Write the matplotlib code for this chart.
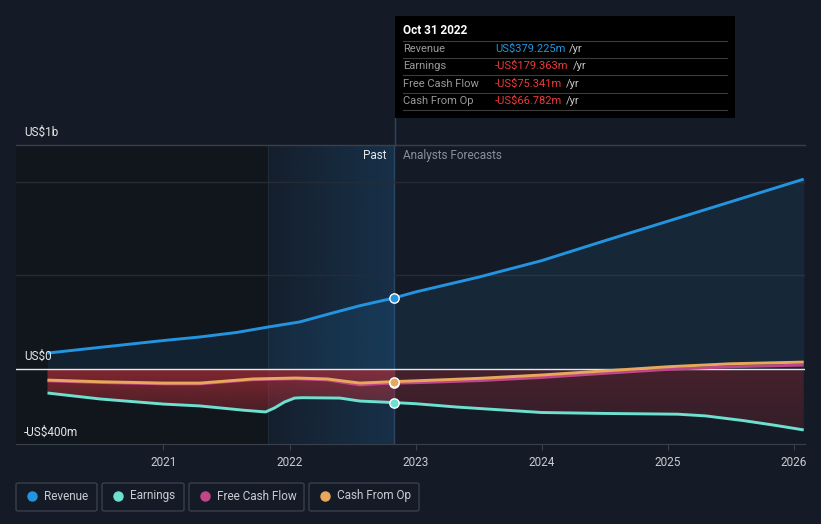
"""Revenue / earnings / cash flow history and analyst forecasts, dark theme."""

import matplotlib

matplotlib.use("Agg")
import matplotlib.pyplot as plt
import numpy as np
from matplotlib.patches import FancyBboxPatch, Rectangle

plt.rcParams["font.family"] = ["Roboto", "DejaVu Sans"]

BG = "#151b26"
REV_C = "#2394df"
EARN_C = "#6de0d0"
FCF_C = "#c0468a"
CFO_C = "#e8a85b"

# decimal years, values in US$ millions
rev_t = [2020.08, 2020.49, 2021.0, 2021.29, 2021.58, 2021.83, 2022.08, 2022.32, 2022.56, 2022.83,
         2023.0, 2023.5, 2024.0, 2024.5, 2025.0, 2025.5, 2026.08]
rev_v = [85, 115, 152, 171, 195, 224, 251, 295, 338, 379,
         411, 490, 578, 684, 788, 892, 1013]

earn_t = [2020.08, 2020.5, 2021.0, 2021.29, 2021.64, 2021.81, 2021.88, 2021.96, 2022.04, 2022.1,
          2022.4, 2022.56, 2022.83, 2023.0, 2023.33, 2024.0, 2024.5, 2025.08, 2025.3, 2025.6,
          2025.85, 2026.08]
earn_v = [-128, -160, -187, -197, -220, -229, -208, -176, -155, -153,
          -155, -171, -179, -185, -203, -232, -237, -241, -250, -275,
          -300, -325]

cfo_t = [2020.08, 2020.5, 2021.0, 2021.29, 2021.71, 2022.05, 2022.3, 2022.45, 2022.56, 2022.7, 2022.83,
         2023.0, 2023.5, 2024.0, 2024.5, 2025.0, 2025.5, 2026.08]
cfo_v = [-59, -68, -75, -75, -53, -48, -53, -66, -75, -71, -67,
         -63, -50, -32, -10, 12, 28, 37]

fcf_t = cfo_t
fcf_v = [-63, -72, -79, -79, -57, -52, -58, -74, -85, -79, -75,
         -73, -62, -45, -23, -2, 12, 21]

NOW = 2022.83
PAST_START = 2021.83
YEARS = [2021, 2022, 2023, 2024, 2025, 2026]
X_MIN, X_MAX = 2019.83, 2026.09
Y_MIN, Y_MAX = -400, 1195

fig = plt.figure(figsize=(8.21, 5.24), dpi=100, facecolor=BG)
W, H = 821, 524
ax = fig.add_axes([16 / W, (H - 444) / H, (805 - 16) / W, (444 - 145) / H])
ax.set_facecolor(BG)
ax.set_xlim(X_MIN, X_MAX)
ax.set_ylim(Y_MIN, Y_MAX)
for s in ["top", "right", "left"]:
    ax.spines[s].set_visible(False)
ax.spines["bottom"].set_color("#3a404a")
ax.set_yticks([])
ax.set_xticks(YEARS)
ax.set_xticklabels([str(y) for y in YEARS])
ax.tick_params(axis="x", colors="#3a404a", labelcolor="#c8ccd2", labelsize=8.5, length=4, pad=5)

# background zones
ax.axvspan(X_MIN, PAST_START, color="#0f1217", alpha=0.55, lw=0, zorder=0)
grad = np.linspace(0.08, 0.42, 256)[None, :]
blue = np.zeros((1, 256, 4))
blue[..., 0], blue[..., 1], blue[..., 2] = 0x1a / 255, 0x4f / 255, 0x7a / 255
blue[..., 3] = grad
ax.imshow(blue, extent=[PAST_START, NOW, Y_MIN, Y_MAX], aspect="auto", zorder=0.5, interpolation="bilinear")
ax.axvline(PAST_START, color="#1f2c3a", lw=0.8, zorder=0.6)
ax.axvline(NOW, color="#2a4660", lw=1, zorder=0.6)

# grid lines
ax.axhline(Y_MAX, color="#3a404a", lw=1, clip_on=False, zorder=1)
for g in [1000, 500]:
    ax.axhline(g, color="#262c36", lw=1, zorder=1)

# revenue area
ax.fill_between(rev_t, rev_v, 0, color=REV_C, alpha=0.1, lw=0, zorder=1.5)

# negative area gradient, clipped to the zone between 0 and earnings
poly = ax.fill_between(earn_t, earn_v, 0, facecolor="none", lw=0)
ny, nx = 100, 400
xs = np.linspace(X_MIN, X_MAX, nx)
ys = np.linspace(0, 1, ny)[:, None]
red = np.zeros((ny, nx, 4))
red[..., 0], red[..., 1], red[..., 2] = 0xb0 / 255, 0x2e / 255, 0x38 / 255
past = (xs <= NOW)[None, :]
red[..., 3] = np.where(past, 0.7 - 0.6 * ys, 0.32 - 0.15 * ys)
im = ax.imshow(red, extent=[X_MIN, X_MAX, Y_MIN, 0], aspect="auto", zorder=1.6, interpolation="bilinear")
im.set_clip_path(poly.get_paths()[0], transform=ax.transData)
ax.set_ylim(Y_MIN, Y_MAX)

ax.axhline(0, color="#e8e8e8", lw=1, zorder=2)

ax.plot(rev_t, rev_v, color=REV_C, lw=2.1, zorder=4, solid_capstyle="butt")
ax.plot(earn_t, earn_v, color=EARN_C, lw=2.1, zorder=4, solid_capstyle="butt")
ax.plot(fcf_t, fcf_v, color=FCF_C, lw=2.1, zorder=4, solid_capstyle="butt")
ax.plot(cfo_t, cfo_v, color=CFO_C, lw=2.1, zorder=4.1, solid_capstyle="butt")

now_vals = [(379.225, REV_C), (-179.363, EARN_C), (-75.341, FCF_C), (-66.782, CFO_C)]
for v, c in now_vals:
    ax.scatter([NOW], [v], s=45, color=c, edgecolor="white", linewidth=1, zorder=5)

# axis value labels
lab_kw = dict(transform=fig.transFigure, color="#e6e8eb", fontsize=8.5, va="center", ha="left")
fig.text(24 / W, 1 - 132 / H, "US$1b", **lab_kw)
fig.text(24 / W, 1 - 356 / H, "US$0", **lab_kw)
fig.text(24 / W, 1 - 432 / H, "-US$400m", **lab_kw)

fig.text(386 / W, 1 - 156 / H, "Past", color="#e6e8eb", fontsize=8.5, ha="right", va="center")
fig.text(403 / W, 1 - 156 / H, "Analysts Forecasts", color="#8a9099", fontsize=8.5, ha="left", va="center")

# tooltip
fig.add_artist(Rectangle((395 / W, 1 - 118 / H), 340 / W, 102 / H, transform=fig.transFigure,
                         facecolor="black", edgecolor="none", zorder=10))
fig.add_artist(plt.Line2D([395 / W, 395 / W], [1 - 118 / H, 1 - 145 / H], transform=fig.transFigure,
                          color="#2a4660", lw=1, zorder=9))
fig.text(403 / W, 1 - 31 / H, "Oct 31 2022", color="white", fontsize=8.5, fontweight="bold",
         va="center", zorder=11)
rows = [("Revenue", "US$379.225m", REV_C), ("Earnings", "-US$179.363m", "#ec3b3b"),
        ("Free Cash Flow", "-US$75.341m", "#ec3b3b"), ("Cash From Op", "-US$66.782m", "#ec3b3b")]
row_y = [49, 66, 84, 101]
sep_y = [41, 58, 75, 93, 110]
for sy in sep_y:
    fig.add_artist(plt.Line2D([403 / W, 727 / W], [1 - sy / H, 1 - sy / H], transform=fig.transFigure,
                              color="#3c3c3c", lw=0.8, zorder=11))
for (name, val, c), ry in zip(rows, row_y):
    fig.text(403 / W, 1 - ry / H, name, color="#9a9a9a", fontsize=8, va="center", zorder=11)
    t = fig.text(495 / W, 1 - ry / H, val, color=c, fontsize=8, va="center", zorder=11)
    fig.canvas.draw()
    bb = t.get_window_extent()
    fig.text((bb.x1 + 4) / W, 1 - ry / H, "/yr", color="#c8c8c8", fontsize=8, va="center", zorder=11)

# legend buttons
legend = [("Revenue", REV_C, 16, 97), ("Earnings", EARN_C, 102, 184),
          ("Free Cash Flow", FCF_C, 189, 304), ("Cash From Op", CFO_C, 309, 419)]
for name, c, x0, x1 in legend:
    fig.add_artist(FancyBboxPatch((x0 / W, 1 - 511 / H), (x1 - x0) / W, 28 / H,
                                  boxstyle="round,pad=0,rounding_size=0.003", transform=fig.transFigure,
                                  facecolor="none", edgecolor="#3a404a", lw=1))
    fig.add_artist(plt.Line2D([(x0 + 16) / W], [1 - 496 / H], marker="o", markersize=6.5, color=c,
                              transform=fig.transFigure, lw=0))
    fig.text((x0 + 28) / W, 1 - 496 / H, name, color="#c8ccd2", fontsize=8.5, va="center")

fig.savefig("out.png", facecolor=BG, dpi=100)
